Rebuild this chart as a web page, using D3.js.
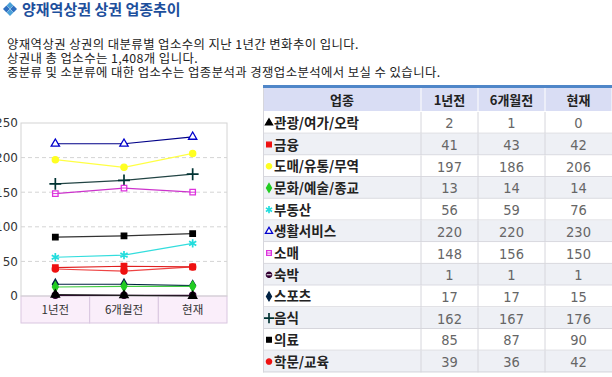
<!DOCTYPE html>
<html>
<head>
<meta charset="utf-8">
<script src="https://d3js.org/d3.v7.min.js"></script>
<style>
  body { margin: 0; background: #fff; }
  svg { display: block; font-family: "Noto Sans CJK KR", "Noto Sans", sans-serif; }
</style>
</head>
<body>
<div id="chart"></div>
<script>
// Data
const categories = ["1년전", "6개월전", "현재"];
const seriesNames = ["관광/여가/오락", "금융", "도매/유통/무역", "문화/예술/종교", "부동산", "생활서비스",
                     "소매", "숙박", "스포츠", "음식", "의료", "학문/교육"];
const seriesValues = [
    [2, 1, 0],
    [41, 43, 42],
    [197, 186, 206],
    [13, 14, 14],
    [56, 59, 76],
    [220, 220, 230],
    [148, 156, 150],
    [1, 1, 1],
    [17, 17, 15],
    [162, 167, 176],
    [85, 87, 90],
    [39, 36, 42]
];
const yTicks = [0, 50, 100, 150, 200, 250];
const tableHeader = ["업종", "1년전", "6개월전", "현재"];
const introLines = [
    "양재역상권 상권의 대분류별 업소수의 지난 1년간 변화추이 입니다.",
    "상권내 총 업소수는 1,408개 입니다.",
    "중분류 및 소분류에 대한 업소수는 업종분석과 경쟁업소분석에서 보실 수 있습니다."
];

// per-series style: line colour, marker colour, symbol, filled
const seriesStyle = [
    {line: "#222", color: "#000", sym: "triangle", fill: true},
    {line: "#e02020", color: "#ee1111", sym: "square", fill: true},
    {line: "#ffff44", color: "#ffff22", sym: "circle", fill: true},
    {line: "#44cc44", color: "#22cc22", sym: "diamond", fill: true},
    {line: "#33dddd", color: "#22dddd", sym: "star", fill: true},
    {line: "#000088", color: "#0000cc", sym: "triangle", fill: false},
    {line: "#cc33cc", color: "#dd33dd", sym: "squareLine", fill: false},
    {line: "#330033", color: "#330033", sym: "circleLine", fill: true},
    {line: "#002244", color: "#002244", sym: "diamond", fill: true},
    {line: "#224444", color: "#003333", sym: "plus", fill: true},
    {line: "#333", color: "#000", sym: "square", fill: true},
    {line: "#ee4444", color: "#ee1111", sym: "circle", fill: true}
];

const W = 612, H = 377;
const svg = d3.select("#chart").append("svg").attr("width", W).attr("height", H);
svg.append("rect").attr("width", W).attr("height", H).attr("fill", "#fff");

// Title with diamond icon
const icon = svg.append("g").attr("transform", "translate(10,9)");
[[0, -3.6], [3.6, 0], [0, 3.6], [-3.6, 0]].forEach(function(p, i) {
    icon.append("rect")
        .attr("x", p[0] - 2.4).attr("y", p[1] - 2.4)
        .attr("width", 4.8).attr("height", 4.8)
        .attr("transform", "rotate(45," + p[0] + "," + p[1] + ")")
        .attr("fill", i % 2 ? "#2f6fc0" : "#4aa0d8");
});
svg.append("text")
    .attr("x", 22).attr("y", 14.5)
    .attr("font-size", 15).attr("font-weight", "bold")
    .attr("fill", "#1d4f9c")
    .text("양재역상권 상권 업종추이");

svg.selectAll("text.intro")
    .data(introLines)
    .join("text")
    .attr("class", "intro")
    .attr("x", 7)
    .attr("y", (d, i) => 49 + i * 14)
    .attr("font-size", 12.4)
    .attr("letter-spacing", 0.4)
    .attr("fill", "#222")
    .text(d => d);

// Chart
const plot = {left: 21, right: 227, top: 123, bottom: 296, band: 27};
const xBand = d3.scaleBand().domain(categories).range([plot.left, plot.right]);
const x = d => xBand(d) + xBand.bandwidth() / 2;
const y = d3.scaleLinear().domain([0, 250]).range([plot.bottom, plot.top]);

const chart = svg.append("g");

// category band under the plot
chart.selectAll("rect.cat")
    .data(categories)
    .join("rect")
    .attr("class", "cat")
    .attr("x", d => xBand(d)).attr("y", plot.bottom)
    .attr("width", xBand.bandwidth()).attr("height", plot.band)
    .attr("fill", "#faeefa").attr("stroke", "#d9c6e0");
chart.selectAll("text.cat")
    .data(categories)
    .join("text")
    .attr("class", "cat")
    .attr("x", d => x(d)).attr("y", plot.bottom + 18)
    .attr("text-anchor", "middle")
    .attr("font-size", 11.5).attr("fill", "#333")
    .text(d => d);

// gridlines
chart.selectAll("line.grid")
    .data(yTicks.filter(t => t > 0 && t < 250))
    .join("line")
    .attr("class", "grid")
    .attr("x1", plot.left).attr("x2", plot.right)
    .attr("y1", d => y(d)).attr("y2", d => y(d))
    .attr("stroke", "#d4d4d4").attr("stroke-dasharray", "4,3");

chart.append("rect")
    .attr("x", plot.left).attr("y", plot.top)
    .attr("width", plot.right - plot.left).attr("height", plot.bottom - plot.top)
    .attr("fill", "none").attr("stroke", "#d4d4d4");

const yAxis = chart.append("g")
    .attr("transform", "translate(" + plot.left + ",0)")
    .call(d3.axisLeft(y).tickValues(yTicks).tickSize(0).tickPadding(3));
yAxis.select(".domain").remove();
yAxis.selectAll("text").attr("font-size", 12).attr("fill", "#333")
    .attr("font-family", "'DejaVu Sans', sans-serif");

// marker builder
function symbolPath(sym, size) {
    const types = {
        triangle: d3.symbolTriangle,
        square: d3.symbolSquare,
        squareLine: d3.symbolSquare,
        circle: d3.symbolCircle,
        circleLine: d3.symbolCircle,
        diamond: d3.symbolDiamond,
        star: d3.symbolAsterisk || d3.symbolTimes,
        plus: d3.symbolPlus || d3.symbolCross
    };
    return d3.symbol().type(types[sym]).size(size)();
}
function drawMarker(g, st, size) {
    const stroked = (st.sym === "star" || st.sym === "plus");
    g.append("path")
        .attr("d", symbolPath(st.sym, stroked ? size * 1.6 : size))
        .attr("fill", stroked ? "none" : (st.fill ? st.color : "#fff"))
        .attr("stroke", st.color)
        .attr("stroke-width", stroked ? 1.7 : 1.3);
    if (st.sym === "squareLine" || st.sym === "circleLine") {
        const r = Math.sqrt(size) / 2;
        g.append("line").attr("x1", -r).attr("x2", r)
            .attr("stroke", st.sym === "circleLine" ? "#fff" : st.color)
            .attr("stroke-width", 1);
    }
}

const line = d3.line().x(d => x(d.cat)).y(d => y(d.value));
const series = seriesNames.map((name, i) => ({
    name: name,
    style: seriesStyle[i],
    points: categories.map((c, j) => ({cat: c, value: seriesValues[i][j]}))
}));

// draw from last to first so upper series come on top like the reference
const sg = chart.selectAll("g.series")
    .data(series.slice().reverse())
    .join("g")
    .attr("class", "series");
sg.append("path")
    .attr("d", d => line(d.points))
    .attr("fill", "none")
    .attr("stroke", d => d.style.line)
    .attr("stroke-width", 1.2);
sg.each(function(d) {
    const g = d3.select(this);
    d.points.forEach(function(p) {
        const m = g.append("g").attr("transform", "translate(" + x(p.cat) + "," + y(p.value) + ")");
        drawMarker(m, d.style, 30);
    });
});

// Table
const tbl = {left: 263, right: 612, top: 88, headH: 24, rowH: 21.7};
const colEdges = [263, 421, 478, 545, 612];

svg.append("rect")
    .attr("x", tbl.left).attr("y", tbl.top - 3)
    .attr("width", tbl.right - tbl.left).attr("height", 3)
    .attr("fill", "#4f86c8");

const head = svg.append("g");
head.selectAll("rect")
    .data(tableHeader)
    .join("rect")
    .attr("x", (d, i) => colEdges[i] + 0.5).attr("y", tbl.top)
    .attr("width", (d, i) => colEdges[i + 1] - colEdges[i] - 1).attr("height", tbl.headH - 1)
    .attr("fill", "#d9ddf4");
head.selectAll("text")
    .data(tableHeader)
    .join("text")
    .attr("x", (d, i) => (colEdges[i] + colEdges[i + 1]) / 2)
    .attr("y", tbl.top + 16.5)
    .attr("text-anchor", "middle")
    .attr("font-size", 13).attr("font-weight", "bold").attr("fill", "#222")
    .text(d => d);

const rows = svg.selectAll("g.row")
    .data(series)
    .join("g")
    .attr("class", "row")
    .attr("transform", (d, i) => "translate(0," + (tbl.top + tbl.headH + i * tbl.rowH) + ")");
rows.append("rect")
    .attr("x", tbl.left).attr("width", tbl.right - tbl.left)
    .attr("height", tbl.rowH)
    .attr("fill", (d, i) => i % 2 ? "#eef0f5" : "#fff");
rows.append("line")
    .attr("x1", tbl.left).attr("x2", tbl.right)
    .attr("y1", tbl.rowH - 0.5).attr("y2", tbl.rowH - 0.5)
    .attr("stroke", "#d6d6dc");
rows.each(function(d) {
    const g = d3.select(this);
    colEdges.slice(1, 4).forEach(function(cx) {
        g.append("line").attr("x1", cx).attr("x2", cx)
            .attr("y1", 0).attr("y2", tbl.rowH)
            .attr("stroke", "#d6d6dc");
    });
    const m = g.append("g").attr("transform", "translate(269," + (tbl.rowH / 2) + ")");
    drawMarker(m, d.style, 22);
    g.append("text")
        .attr("x", 274).attr("y", tbl.rowH / 2 + 5)
        .attr("font-size", 13.5).attr("font-weight", "bold").attr("fill", "#222")
        .text(d.name);
    d.points.forEach(function(p, j) {
        g.append("text")
            .attr("x", (colEdges[j + 1] + colEdges[j + 2]) / 2)
            .attr("y", tbl.rowH / 2 + 5.5)
            .attr("text-anchor", "middle")
            .attr("font-size", 14.5).attr("fill", "#666")
            .attr("font-family", "'Liberation Sans Narrow', 'DejaVu Sans Condensed', sans-serif")
            .text(p.value);
    });
});
svg.append("line")
    .attr("x1", tbl.left + 0.5).attr("x2", tbl.left + 0.5)
    .attr("y1", tbl.top).attr("y2", tbl.top + tbl.headH + series.length * tbl.rowH)
    .attr("stroke", "#d6d6dc");
</script>
</body>
</html>
